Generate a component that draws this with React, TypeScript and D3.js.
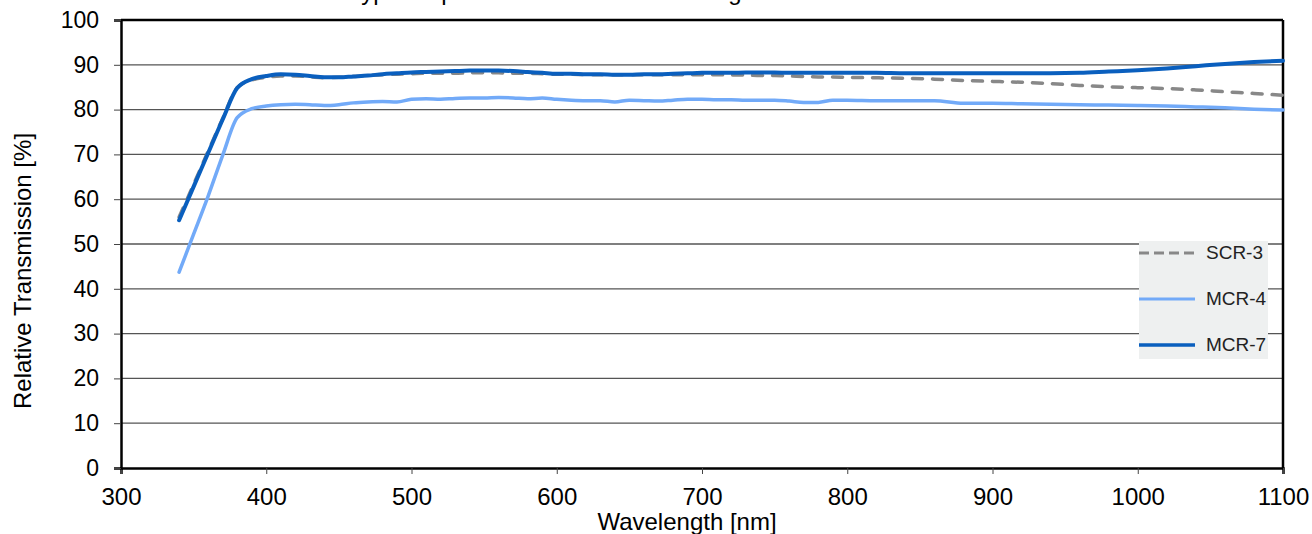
import React, { useEffect, useRef } from 'react';
import * as d3 from 'd3';

// wavelength grid [nm]
const wavelengths = [
  340, 350, 360, 370, 380, 390, 400, 410, 420, 430, 440, 450, 460, 470, 480, 490,
  500, 510, 520, 530, 540, 550, 560, 570, 580, 590, 600, 610, 620, 630, 640, 650,
  660, 670, 680, 690, 700, 710, 720, 730, 740, 750, 760, 770, 780, 790, 800,
  820, 840, 860, 880, 900, 920, 940, 960, 980, 1000, 1020, 1040, 1060, 1080, 1100,
];

const scr3 = [
  56.0, 63.3, 70.7, 78.0, 84.9, 86.6, 87.2, 87.5, 87.5, 87.3, 87.1, 87.2, 87.4, 87.6, 87.8, 87.9,
  88.0, 88.1, 88.1, 88.1, 88.2, 88.2, 88.2, 88.1, 88.1, 88.0, 87.9, 87.9, 87.8, 87.8, 87.8, 87.8,
  87.8, 87.8, 87.8, 87.8, 87.8, 87.8, 87.7, 87.7, 87.6, 87.6, 87.5, 87.4, 87.3, 87.3, 87.2,
  87.1, 87.0, 86.8, 86.5, 86.3, 86.1, 85.8, 85.4, 85.1, 84.9, 84.7, 84.4, 84.0, 83.6, 83.2,
];

const mcr4 = [
  43.7, 52.2, 60.7, 69.8, 78.2, 80.2, 80.8, 81.1, 81.2, 81.1, 80.9, 81.1, 81.5, 81.7, 81.8, 81.7,
  82.3, 82.4, 82.3, 82.5, 82.6, 82.6, 82.7, 82.6, 82.4, 82.6, 82.3, 82.1, 82.0, 82.0, 81.7, 82.1,
  82.0, 81.9, 82.1, 82.3, 82.3, 82.2, 82.2, 82.1, 82.1, 82.1, 81.9, 81.6, 81.6, 82.1, 82.1,
  82.0, 82.0, 82.0, 81.4, 81.4, 81.3, 81.2, 81.1, 81.0, 80.9, 80.8, 80.6, 80.4, 80.1, 79.9,
];

const mcr7 = [
  55.3, 62.8, 70.3, 77.8, 84.8, 86.8, 87.5, 87.9, 87.8, 87.5, 87.2, 87.2, 87.4, 87.6, 87.9, 88.1,
  88.3, 88.4, 88.5, 88.6, 88.7, 88.7, 88.7, 88.6, 88.4, 88.2, 88.0, 88.0, 87.9, 87.9, 87.8, 87.8,
  87.9, 87.9, 88.0, 88.1, 88.2, 88.2, 88.2, 88.3, 88.3, 88.3, 88.2, 88.2, 88.2, 88.2, 88.2,
  88.2, 88.1, 88.1, 88.1, 88.1, 88.1, 88.1, 88.2, 88.5, 88.8, 89.2, 89.7, 90.2, 90.6, 90.9,
];

const xTicks = [300, 400, 500, 600, 700, 800, 900, 1000, 1100];
const yTicks = [0, 10, 20, 30, 40, 50, 60, 70, 80, 90, 100];

const series = [
  { name: 'SCR-3', values: scr3, color: '#888888', width: 3.5, dash: '10 10' },
  { name: 'MCR-4', values: mcr4, color: '#72aaf8', width: 3.5, dash: null },
  { name: 'MCR-7', values: mcr7, color: '#0a5fbe', width: 4, dash: null },
];

const W = 1312;
const H = 534;
const FONT = '"Liberation Sans", Arial, sans-serif';

function TransmissionChart() {
  const svgRef = useRef<SVGSVGElement>(null);

  useEffect(() => {
    const svg = d3.select(svgRef.current);
    svg.selectAll('*').remove();

    const left = 121, right = 1283, top = 20, bottom = 468;

    const x = d3.scaleLinear().domain([300, 1100]).range([left, right]);
    const y = d3.scaleLinear().domain([0, 100]).range([bottom, top]);

    // title (cut by the top edge, like the source image)
    svg.append('text')
      .attr('x', 348).attr('y', 0)
      .attr('font-family', FONT).attr('font-size', 24)
      .text('Typical spectral transmission of the glass windows');

    // gridlines
    svg.append('g')
      .selectAll('line')
      .data(yTicks.filter(t => t > 0 && t < 100))
      .join('line')
      .attr('x1', left).attr('x2', right)
      .attr('y1', d => y(d)).attr('y2', d => y(d))
      .attr('stroke', '#555').attr('stroke-width', 1.3);

    // frame
    svg.append('line').attr('x1', left).attr('x2', right).attr('y1', top).attr('y2', top)
      .attr('stroke', '#000').attr('stroke-width', 2.5);
    svg.append('line').attr('x1', right).attr('x2', right).attr('y1', top).attr('y2', bottom)
      .attr('stroke', '#000').attr('stroke-width', 2.5);

    // axes
    const xAxis = svg.append('g')
      .attr('transform', `translate(0,${bottom})`)
      .call(d3.axisBottom(x).tickValues(xTicks).tickSize(6).tickPadding(14).tickFormat(d3.format('d')));
    xAxis.select('.domain').attr('stroke', '#000').attr('stroke-width', 2.5);
    xAxis.selectAll('.tick line').attr('stroke', '#444');
    xAxis.selectAll('text').attr('font-family', FONT).attr('font-size', 24).attr('fill', '#000');

    const yAxis = svg.append('g')
      .attr('transform', `translate(${left},0)`)
      .call(d3.axisLeft(y).tickValues(yTicks).tickSize(7).tickPadding(15).tickFormat(d3.format('d')));
    yAxis.select('.domain').attr('stroke', '#000').attr('stroke-width', 2.5);
    yAxis.selectAll('.tick line').attr('stroke', '#444');
    yAxis.selectAll('text').attr('font-family', FONT).attr('font-size', 23).attr('fill', '#000');

    // axis titles
    svg.append('text')
      .attr('x', 687).attr('y', 530)
      .attr('text-anchor', 'middle')
      .attr('font-family', FONT).attr('font-size', 24)
      .text('Wavelength [nm]');
    svg.append('text')
      .attr('transform', `translate(31,${271}) rotate(-90)`)
      .attr('text-anchor', 'middle')
      .attr('font-family', FONT).attr('font-size', 24)
      .text('Relative Transmission [%]');

    // curves
    const line = d3.line<number>()
      .x((_, i) => x(wavelengths[i]))
      .y(d => y(d))
      .curve(d3.curveMonotoneX);

    series.forEach(s => {
      svg.append('path')
        .datum(s.values)
        .attr('d', line)
        .attr('fill', 'none')
        .attr('stroke', s.color)
        .attr('stroke-width', s.width)
        .attr('stroke-linecap', 'round')
        .attr('stroke-linejoin', 'round')
        .attr('stroke-dasharray', s.dash);
    });

    // legend
    const lg = svg.append('g').attr('transform', 'translate(1139,241)');
    lg.append('rect').attr('width', 129).attr('height', 118).attr('fill', '#eef0f0');
    series.forEach((s, i) => {
      const yy = 12 + i * 46;
      lg.append('line')
        .attr('x1', 0).attr('x2', 56).attr('y1', yy).attr('y2', yy)
        .attr('stroke', s.color).attr('stroke-width', s.width === 4 ? 3.5 : 3)
        .attr('stroke-dasharray', s.dash ? '10 5' : null);
      lg.append('text')
        .attr('x', 67).attr('y', yy + 6)
        .attr('font-family', FONT).attr('font-size', 19).attr('fill', '#222')
        .text(s.name);
    });
  }, []);

  return <svg ref={svgRef} width={W} height={H} style={{ display: 'block' }} />;
}

export default function App() {
  return (
    <div style={{ position: 'fixed', left: 0, top: 0, width: W, height: H, background: '#fff' }}>
      <TransmissionChart />
    </div>
  );
}
